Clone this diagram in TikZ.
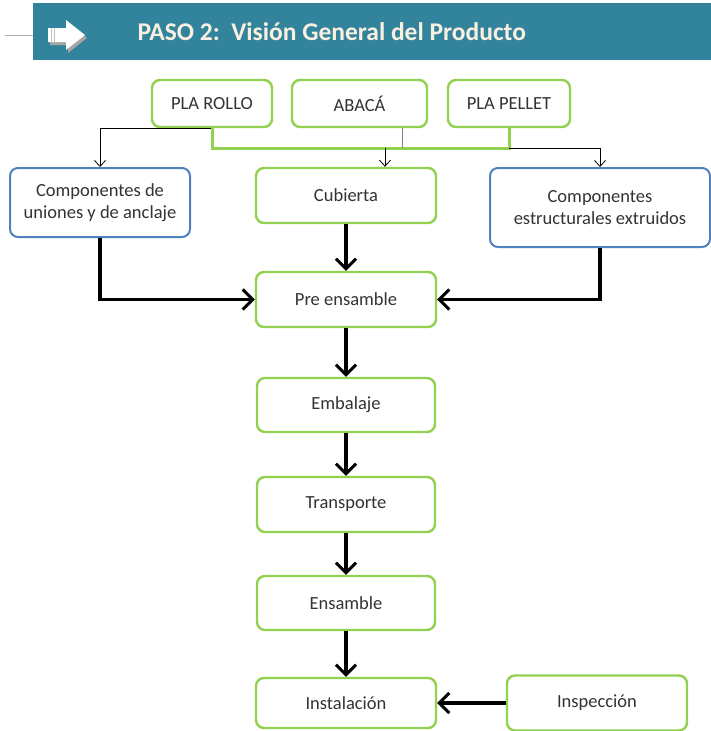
\documentclass[tikz,border=0pt]{standalone}
\usepackage{fontspec}
\setmainfont{Carlito}
\usepackage{xcolor}
\usetikzlibrary{arrows.meta}
\definecolor{banner}{RGB}{49,132,155}
\definecolor{boxgreen}{RGB}{146,208,80}
\definecolor{boxblue}{RGB}{79,129,189}
\definecolor{cream}{RGB}{250,240,225}
\tikzset{
	gbox/.style={draw=boxgreen,line width=2.4pt,rounded corners=8pt,fill=white,text=black!80,
		align=center,font=\fontsize{18.5}{22}\selectfont,inner sep=2pt},
	bbox/.style={gbox,draw=boxblue,line width=2pt},
	thinarr/.style={-{Straight Barb[length=6pt,width=11pt]},line width=0.8pt},
	thickarr/.style={-{Straight Barb[length=10pt,width=20pt,line width=3pt]},line width=3.5pt}
}
\begin{document}
\begin{tikzpicture}[x=1pt,y=-1pt]
		\useasboundingbox (0,0) rectangle (711,731);
		% banner
		\draw[gray!60,line width=1pt] (5,35) -- (33,35);
		\fill[banner] (33,3) rectangle (711,60);
		\fill[gray!70] (50,31) -- (68,31) -- (68,23) -- (87,38) -- (68,53) -- (68,45) -- (50,45) -- cycle;
		\fill[white] (48,28) -- (66,28) -- (66,20) -- (85,35) -- (66,50) -- (66,42) -- (48,42) -- cycle;
		\draw[gray!50,line width=0.6pt] (51,28) -- (51,42) (54,28) -- (54,42);
		\node[anchor=west,text=cream,font=\fontsize{25.5}{30}\selectfont\bfseries] (title) at (134,32) {PASO 2:\ \ Visión General del Producto};
		%
		\node[gbox,minimum width=120pt,minimum height=47pt] (rollo) at (212,103.5) {PLA ROLLO};
		\node[gbox,minimum width=135pt,minimum height=47pt] (abaca) at (359.5,103.5) {ABACÁ};
		\node[gbox,minimum width=122pt,minimum height=47pt] (pellet) at (509,103.5) {PLA PELLET};
		\node[bbox,minimum width=180pt,minimum height=69pt] (uniones) at (100,202.5) {Componentes de\\uniones y de anclaje};
		\node[gbox,minimum width=180pt,minimum height=55pt] (cubierta) at (346,195.5) {Cubierta};
		\node[bbox,minimum width=220pt,minimum height=79pt] (extruidos) at (600,207.5) {Componentes\\estructurales extruidos};
		\node[gbox,minimum width=180pt,minimum height=55pt] (preens) at (346,299.5) {Pre ensamble};
		\node[gbox,minimum width=178pt,minimum height=54pt] (embalaje) at (346,405) {Embalaje};
		\node[gbox,minimum width=178pt,minimum height=55pt] (transporte) at (346,504.5) {Transporte};
		\node[gbox,minimum width=178pt,minimum height=54pt] (ensamble) at (346,603) {Ensamble};
		\node[gbox,minimum width=180pt,minimum height=50pt] (instalacion) at (346,703) {Instalación};
		\node[gbox,minimum width=180pt,minimum height=55pt] (inspeccion) at (597,703) {Inspección};
		%
		\coordinate (bl) at ([yshift=-20pt]rollo.south);
		\coordinate (br) at (bl -| pellet.south);
		\draw[thinarr] (rollo.south) -| (uniones.north);
		\draw[boxgreen,line width=3pt] (rollo.south) -- (bl) -- (br) -- (pellet.south);
		\draw[gray,line width=1.2pt] ([xshift=43pt]abaca.south) -- ([xshift=43pt]abaca.south |- bl);
		\draw[thinarr] ([xshift=39pt]cubierta.north |- bl) -- ([xshift=39pt]cubierta.north);
		\draw[thinarr] (br) -| (extruidos.north);
		%
		\draw[thickarr] (uniones.south) |- (preens.west);
		\draw[thickarr] (extruidos.south) |- (preens.east);
		\path[thickarr]
		(cubierta) edge (preens)
		(preens) edge (embalaje)
		(embalaje) edge (transporte)
		(transporte) edge (ensamble)
		(ensamble) edge (instalacion)
		(inspeccion) edge (instalacion);
	\end{tikzpicture}
\end{document}
